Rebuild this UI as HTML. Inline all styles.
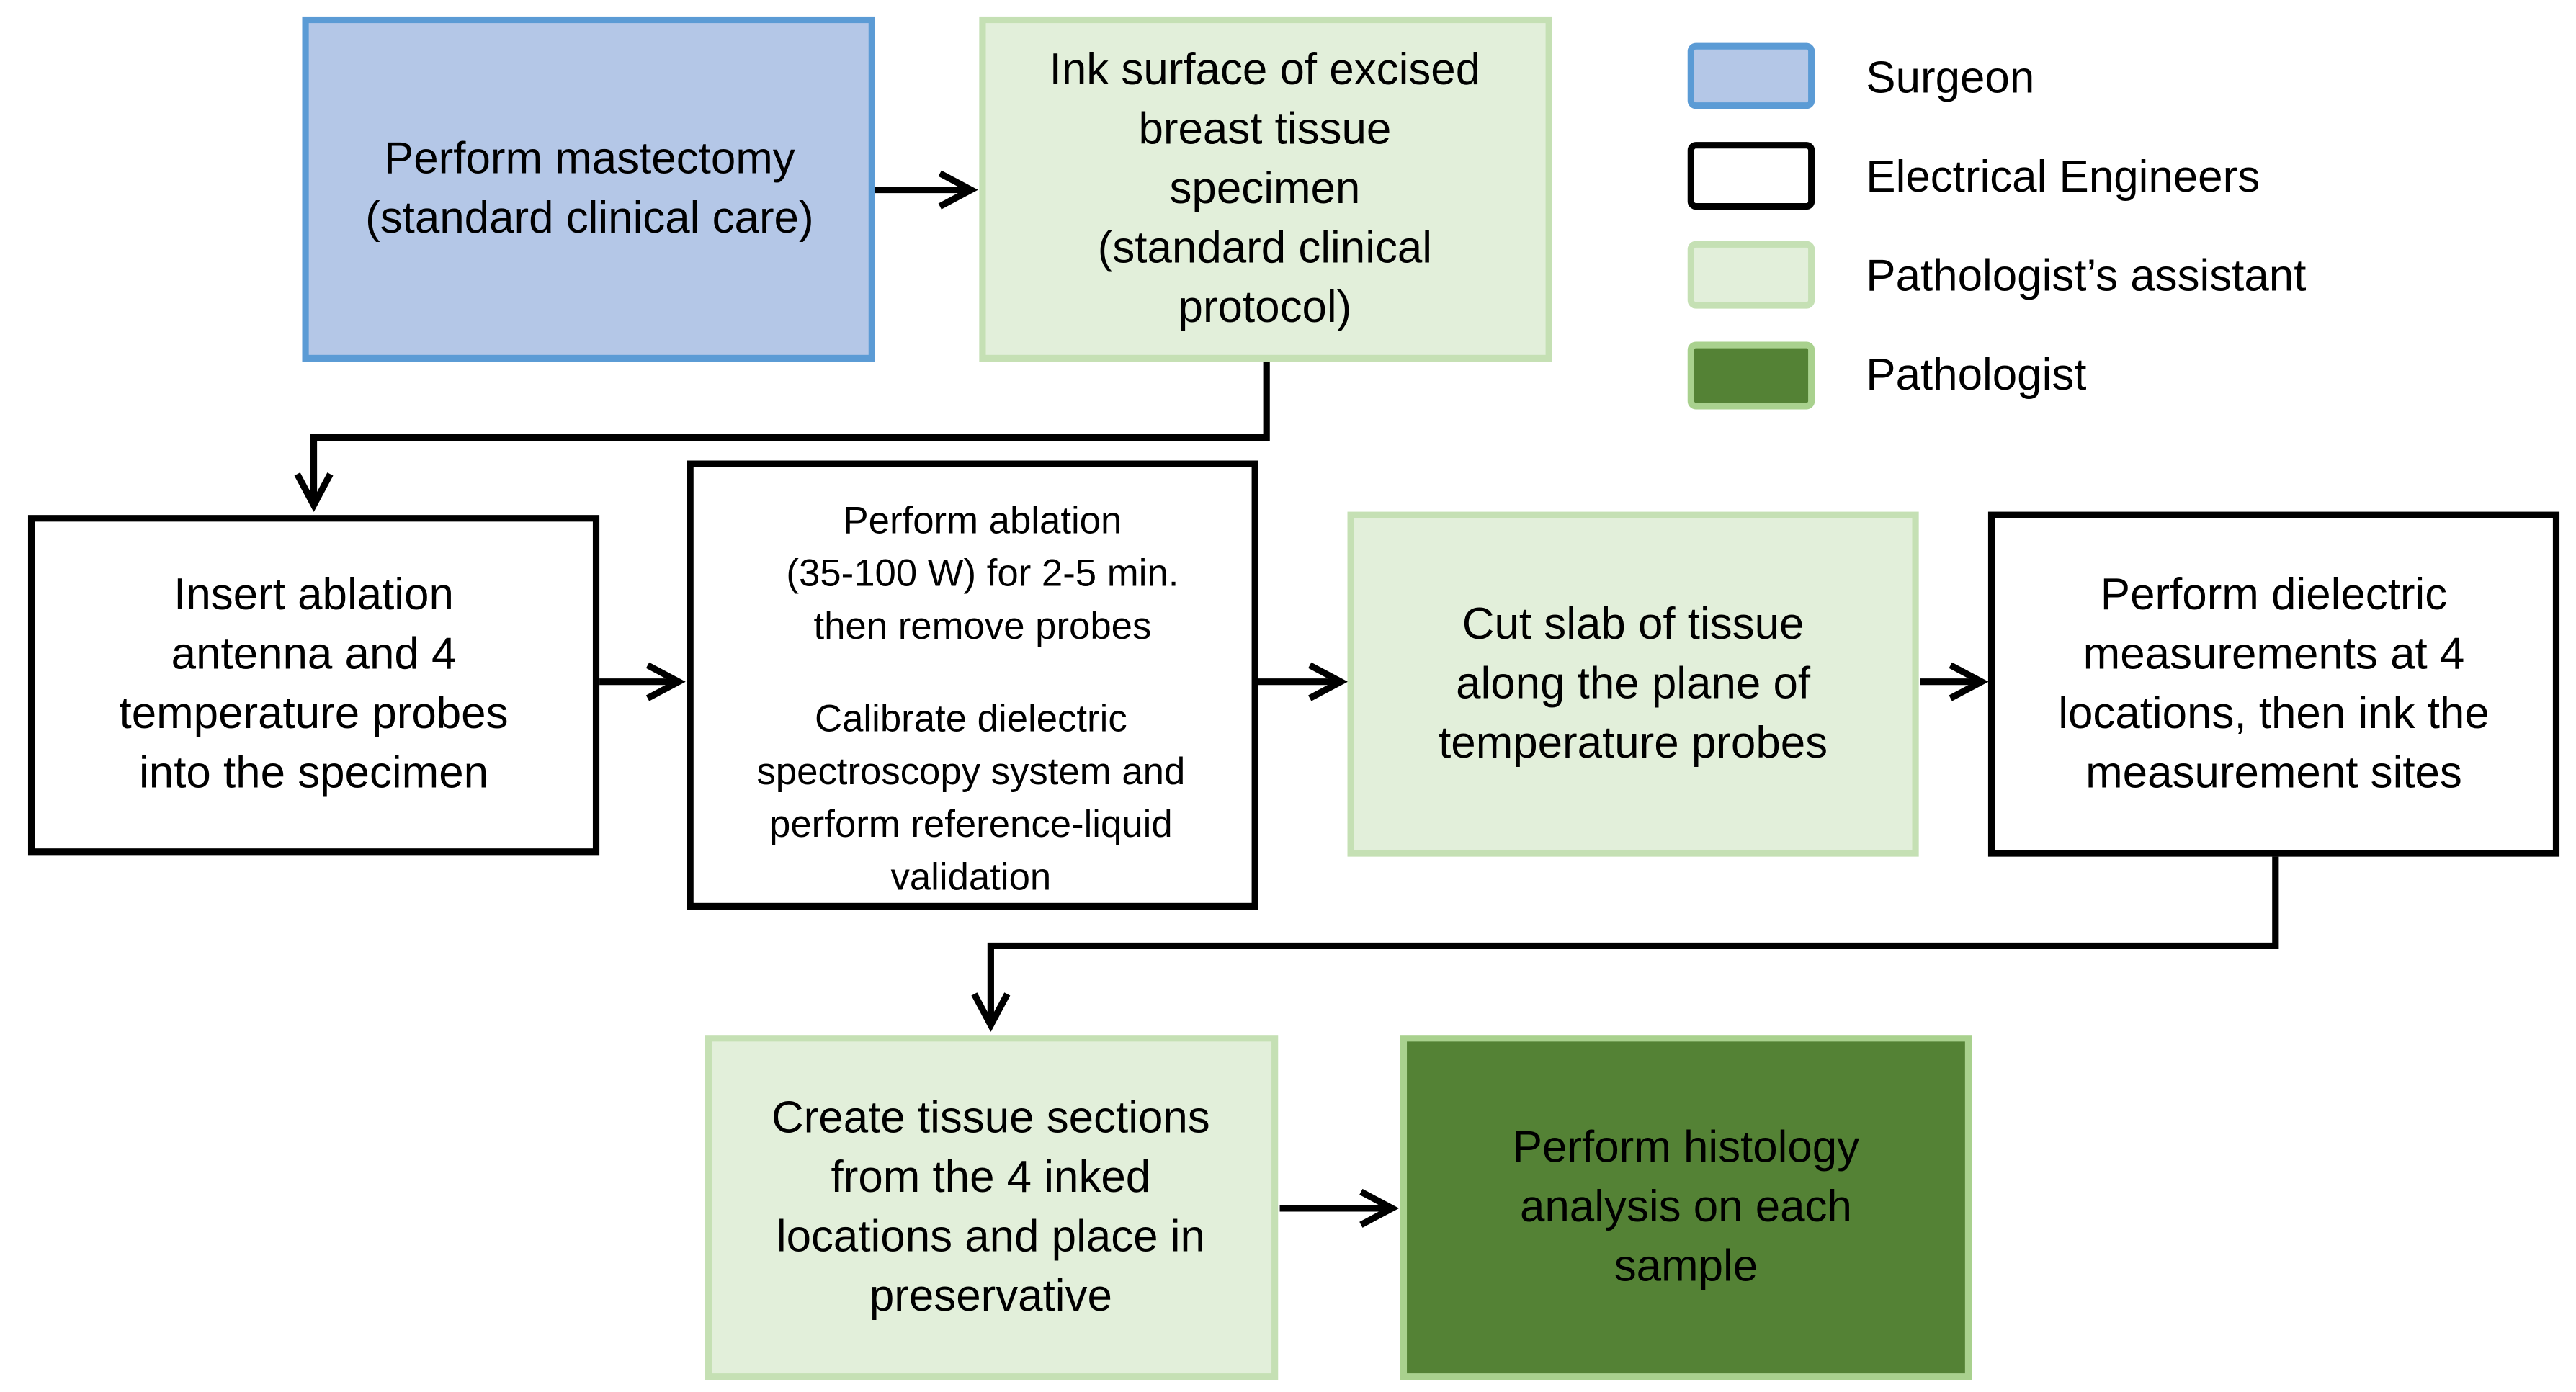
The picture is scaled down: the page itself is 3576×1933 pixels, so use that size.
<!DOCTYPE html>
<html><head><meta charset="utf-8"><style>
html,body{margin:0;padding:0;background:#fff;}
svg{display:block;}
text{font-family:"Liberation Sans",sans-serif;fill:#000;text-anchor:middle;}
text.l{text-anchor:start;}
</style></head><body>
<svg width="3576" height="1933" viewBox="0 0 1560 843.3" preserveAspectRatio="none" xmlns="http://www.w3.org/2000/svg">
<defs><marker id="a" markerWidth="6" markerHeight="6" refX="5" refY="3" orient="auto" markerUnits="strokeWidth"><path d="M0.3,0.5 L5,3 L0.3,5.5" fill="none" stroke="#000" stroke-width="1"/></marker></defs>
<g stroke-width="4">
<rect x="185" y="12" width="343" height="205" fill="#b4c7e7" stroke="#5b9bd5"/>
<rect x="595" y="12" width="343" height="205" fill="#e2efda" stroke="#c5e0b4"/>
<rect x="19" y="314" width="342" height="202" fill="#fff" stroke="#000"/>
<rect x="418" y="281" width="342" height="268" fill="#fff" stroke="#000"/>
<rect x="818" y="312" width="342" height="205" fill="#e2efda" stroke="#c5e0b4"/>
<rect x="1206" y="312" width="342" height="205" fill="#fff" stroke="#000"/>
<rect x="429" y="629" width="343" height="205" fill="#e2efda" stroke="#c5e0b4"/>
<rect x="850" y="629" width="342" height="205" fill="#548235" stroke="#a9d18e"/>
<rect x="1024" y="28" width="73" height="36" rx="3" fill="#b4c7e7" stroke="#5b9bd5"/>
<rect x="1024" y="88" width="73" height="37" rx="3" fill="#fff" stroke="#000"/>
<rect x="1024" y="148" width="73" height="37" rx="3" fill="#e2efda" stroke="#c5e0b4"/>
<rect x="1024" y="209" width="73" height="37" rx="3" fill="#548235" stroke="#a9d18e"/>
</g>
<g stroke="#000" stroke-width="4" fill="none" marker-end="url(#a)">
<path d="M530,115 H588"/>
<path d="M767,219 V265 H190 V306"/>
<path d="M363,413 H411"/>
<path d="M762,413 H812"/>
<path d="M1163,413 H1200"/>
<path d="M1378,519 V573 H600 V621"/>
<path d="M775,732 H843"/>
</g>
<g font-size="27">
<text x="357" y="105">Perform mastectomy</text>
<text x="357" y="141">(standard clinical care)</text>
<text x="766" y="51">Ink surface of excised</text>
<text x="766" y="87">breast tissue</text>
<text x="766" y="123">specimen</text>
<text x="766" y="159">(standard clinical</text>
<text x="766" y="195">protocol)</text>
<text x="190" y="369">Insert ablation</text>
<text x="190" y="405">antenna and 4</text>
<text x="190" y="441">temperature probes</text>
<text x="190" y="477">into the specimen</text>
<text x="989" y="387">Cut slab of tissue</text>
<text x="989" y="423">along the plane of</text>
<text x="989" y="459">temperature probes</text>
<text x="1377" y="369">Perform dielectric</text>
<text x="1377" y="405">measurements at 4</text>
<text x="1377" y="441">locations, then ink the</text>
<text x="1377" y="477">measurement sites</text>
<text x="600" y="686">Create tissue sections</text>
<text x="600" y="722">from the 4 inked</text>
<text x="600" y="758">locations and place in</text>
<text x="600" y="794">preservative</text>
<text x="1021" y="704">Perform histology</text>
<text x="1021" y="740">analysis on each</text>
<text x="1021" y="776">sample</text>
<text class="l" x="1130" y="56">Surgeon</text>
<text class="l" x="1130" y="116">Electrical Engineers</text>
<text class="l" x="1130" y="176">Pathologist’s assistant</text>
<text class="l" x="1130" y="236">Pathologist</text>
</g>
<g font-size="23">
<text x="595" y="323">Perform ablation</text>
<text x="595" y="355">(35-100 W) for 2-5 min.</text>
<text x="595" y="387">then remove probes</text>
<text x="588" y="443">Calibrate dielectric</text>
<text x="588" y="475">spectroscopy system and</text>
<text x="588" y="507">perform reference-liquid</text>
<text x="588" y="539">validation</text>
</g>
</svg>
</body></html>
